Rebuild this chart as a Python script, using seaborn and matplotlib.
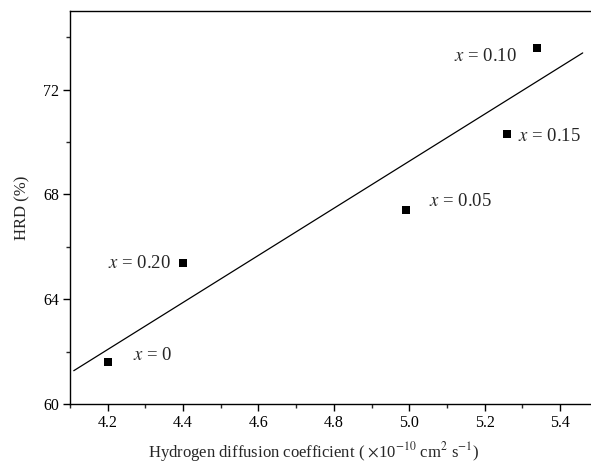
import matplotlib
matplotlib.use("Agg")
import matplotlib.pyplot as plt
import seaborn as sns
import pandas as pd
from matplotlib.ticker import MultipleLocator

diff_coef = [4.20, 4.40, 4.99, 5.26, 5.34]
hrd = [61.6, 65.4, 67.4, 70.3, 73.6]
labels = ["$x$ = 0", "$x$ = 0.20", "$x$ = 0.05", "$x$ = 0.15", "$x$ = 0.10"]

# straight fit line end points
fit_x = [4.11, 5.46]
fit_y = [61.27, 73.40]

sns.set_theme(style="ticks")
plt.rcParams["font.family"] = ["Liberation Serif", "DejaVu Serif"]
plt.rcParams["mathtext.fontset"] = "stix"

df = pd.DataFrame({"D": diff_coef, "HRD": hrd, "label": labels})

fig = plt.figure(figsize=(5.91, 4.68), dpi=100)
ax = fig.add_axes([0.1184, 0.1368, 0.8816, 0.8397])

sns.lineplot(x=fit_x, y=fit_y, ax=ax, color="black", lw=0.9)
sns.scatterplot(data=df, x="D", y="HRD", ax=ax, marker="s", color="black",
                s=40, edgecolor="black", linewidth=0, zorder=3)

# label offsets in points and alignment
offsets = [(18, 5), (-9, -1), (17, 6), (8, -2), (-15, -6)]
aligns = ["left", "right", "left", "left", "right"]
for (_, r), off, ha in zip(df.iterrows(), offsets, aligns):
    ax.annotate(r["label"], (r["D"], r["HRD"]), xytext=off,
                textcoords="offset points", ha=ha, va="center", fontsize=13.5)

ax.set_xlim(4.1, 5.482)
ax.set_ylim(60, 75)
ax.xaxis.set_minor_locator(MultipleLocator(0.1))
ax.yaxis.set_major_locator(MultipleLocator(4))
ax.yaxis.set_minor_locator(MultipleLocator(2))
ax.set_xticks([4.2, 4.4, 4.6, 4.8, 5.0, 5.2, 5.4])
ax.set_xticklabels(["4.2", "4.4", "4.6", "4.8", "5.0", "5.2", "5.4"])
ax.tick_params(which="major", direction="out", length=5, width=1, labelsize=11.5,
               colors="black", pad=3)
ax.tick_params(which="minor", direction="out", length=3, width=1)
ax.tick_params(top=False, right=False)

for side in ["left", "bottom", "top"]:
    ax.spines[side].set_color("black")
    ax.spines[side].set_linewidth(1)
ax.spines["right"].set_visible(False)

ax.set_xlabel("Hydrogen diffusion coefficient ( $\\times$10$^{-10}$ cm$^{2}$ s$^{-1}$)",
              fontsize=12)
ax.xaxis.set_label_coords(0.468, -0.092)
ax.set_ylabel("HRD (%)", fontsize=12, labelpad=9)

fig.savefig("out.png", dpi=100)
